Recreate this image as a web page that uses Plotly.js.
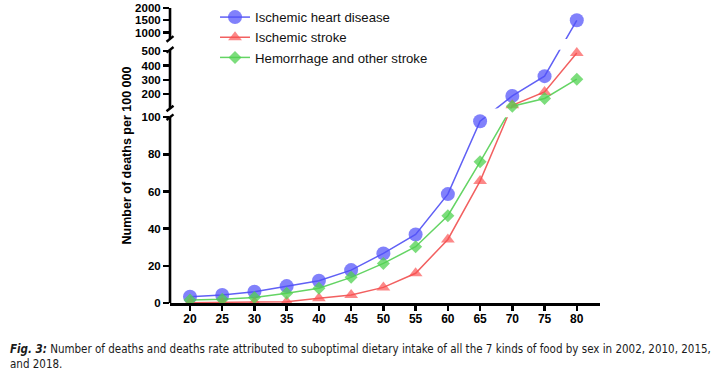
<!DOCTYPE html>
<html>
<head>
<meta charset="utf-8">
<script src="https://cdn.plot.ly/plotly-3.0.1.min.js"></script>
<style>
  html, body { margin: 0; padding: 0; background: #fff; }
  #chart { width: 717px; height: 370px; }
</style>
</head>
<body>
<div id="chart"></div>
<script>
// ---- data ----
const ages = [20, 25, 30, 35, 40, 45, 50, 55, 60, 65, 70, 75, 80];
const ischemicHeart = [3.4, 4.3, 6.1, 9.1, 12, 17.7, 26.7, 36.9, 58.6, 97.8, 188, 326, 1500];
const ischemicStroke = [0.2, 0.3, 0.4, 0.7, 2.5, 4.3, 8.4, 16, 34.2, 65.6, 123, 216, 488];
const hemorrhage = [1.6, 2.0, 3.0, 5.2, 7.9, 13.8, 21.3, 30.3, 47, 76, 116, 170, 305];

const seriesNames = ["Ischemic heart disease", "Ischemic stroke", "Hemorrhage and other stroke"];

// broken y-axis tick labels per segment
const bottomTicks = [0, 20, 40, 60, 80, 100];
const middleTicks = [200, 300, 400, 500];
const topTicks = [1000, 1500, 2000];
const xTicks = [20, 25, 30, 35, 40, 45, 50, 55, 60, 65, 70, 75, 80];

// ---- broken-axis scale (value -> continuous axis position) ----
const segLo = [0, 100, 740];
const segHi = [100, 510, 2000];
const segV0 = [0, 194.7, 264.3];
const segV1 = [186, 253.4, 295.3];

function brk(val) {
  let i = 0;
  while (i < segHi.length - 1 && val > segHi[i]) i++;
  return segV0[i] + (val - segLo[i]) / (segHi[i] - segLo[i]) * (segV1[i] - segV0[i]);
}

const colors = {
  line: ["rgb(96,96,245)", "rgb(242,96,96)", "rgb(100,212,100)"],
  marker: ["rgba(80,80,250,0.72)", "rgba(250,80,80,0.68)", "rgba(80,210,80,0.75)"]
};
const symbols = ["circle", "triangle-up", "diamond"];
const sizes = [14, 12, 10];
const allSeries = [ischemicHeart, ischemicStroke, hemorrhage];

const XMIN = 16.9, XMAX = 83.6;

const traces = [];
// lines (below the gap mask)
allSeries.forEach((s, k) => {
  traces.push({
    x: ages, y: s.map(brk), type: "scatter", mode: "lines",
    line: { color: colors.line[k], width: 1.5 },
    showlegend: false, hoverinfo: "skip"
  });
});
// gap masks hide lines crossing the axis breaks
const gapLo = [segV1[0], segV1[1]];
const gapHi = [segV0[1], segV0[2]];
gapLo.forEach((lo, g) => {
  traces.push({
    x: [XMIN, XMAX, XMAX, XMIN, XMIN],
    y: [lo, lo, gapHi[g], gapHi[g], lo],
    type: "scatter", mode: "none", fill: "toself",
    fillcolor: "#ffffff", showlegend: false, hoverinfo: "skip"
  });
});
// markers on top
allSeries.forEach((s, k) => {
  traces.push({
    x: ages, y: s.map(brk), type: "scatter", mode: "markers",
    marker: { color: colors.marker[k], symbol: symbols[k], size: sizes[k], line: { width: 0 } },
    cliponaxis: false, showlegend: false, name: seriesNames[k]
  });
});
// legend entries
allSeries.forEach((s, k) => {
  traces.push({
    x: [null], y: [null], type: "scatter", mode: "lines+markers",
    name: seriesNames[k],
    line: { color: colors.line[k], width: 1.5 },
    marker: { color: colors.marker[k], symbol: symbols[k], size: sizes[k], line: { width: 0 } }
  });
});

const yTickVals = [].concat(bottomTicks, middleTicks, topTicks).map(brk);
const yTickText = [].concat(bottomTicks, middleTicks, topTicks).map(String);

// axis segments + break marks
const shapes = [];
for (let i = 0; i < segLo.length; i++) {
  shapes.push({
    type: "line", xref: "paper", yref: "y", x0: 0, x1: 0,
    y0: segV0[i], y1: segV1[i], line: { color: "#000", width: 2.6 }
  });
}
const breakEnds = [segV1[0], segV0[1], segV1[1], segV0[2]];
breakEnds.forEach(v => {
  shapes.push({
    type: "line", xref: "paper", yref: "y",
    xsizemode: "pixel", xanchor: 0, x0: -3.5, x1: 3.5,
    ysizemode: "pixel", yanchor: v, y0: -2.8, y1: 2.8,
    line: { color: "#000", width: 2.4 }
  });
});

const capFont = { family: "'DejaVu Sans Condensed', 'Liberation Sans', sans-serif", size: 11.5, color: "#1a1a1a" };

const layout = {
  width: 717, height: 370,
  margin: { l: 170, r: 117, t: 8, b: 67, autoexpand: false },
  paper_bgcolor: "#fff", plot_bgcolor: "#fff",
  font: { family: "'Liberation Sans', Arial, sans-serif", color: "#000" },
  showlegend: true,
  legend: {
    x: 0.1047, y: 1.0203, xanchor: "left", yanchor: "top",
    bgcolor: "rgba(0,0,0,0)", font: { size: 13.2, color: "#111" },
    itemwidth: 30, tracegroupgap: 0
  },
  xaxis: {
    range: [XMIN, XMAX], tickvals: xTicks, ticktext: xTicks.map(String),
    showline: true, linecolor: "#000", linewidth: 2.6,
    ticks: "outside", ticklen: 5, tickwidth: 2.4, tickcolor: "#000",
    ticklabelstandoff: -2,
    tickfont: { size: 12, weight: "bold", color: "#000" },
    showgrid: false, zeroline: false, fixedrange: true
  },
  yaxis: {
    range: [0, 295.3], tickvals: yTickVals, ticktext: yTickText,
    showline: false, ticks: "outside", ticklen: 6, tickwidth: 2.4, tickcolor: "#000",
    tickfont: { size: 11.5, weight: "bold", color: "#000" },
    showgrid: false, zeroline: false, fixedrange: true,
    title: { text: "Number of deaths per 100 000", font: { size: 12.5, weight: "bold", color: "#000" }, standoff: 0 }
  },
  shapes: shapes,
  annotations: [
    {
      xref: "paper", yref: "paper", x: (8 - 170) / 430, y: (303 - 349) / 295.3,
      xanchor: "left", yanchor: "middle", showarrow: false, align: "left",
      text: "<b><i>Fig. 3:</i></b> Number of deaths and deaths rate attributed to suboptimal dietary intake of all the 7 kinds of food by sex in 2002, 2010, 2015,",
      font: capFont
    },
    {
      xref: "paper", yref: "paper", x: (8 - 170) / 430, y: (303 - 364) / 295.3,
      xanchor: "left", yanchor: "middle", showarrow: false, align: "left",
      text: "and 2018.",
      font: capFont
    }
  ]
};

Plotly.newPlot("chart", traces, layout, { displayModeBar: false, staticPlot: true });
</script>
</body>
</html>
